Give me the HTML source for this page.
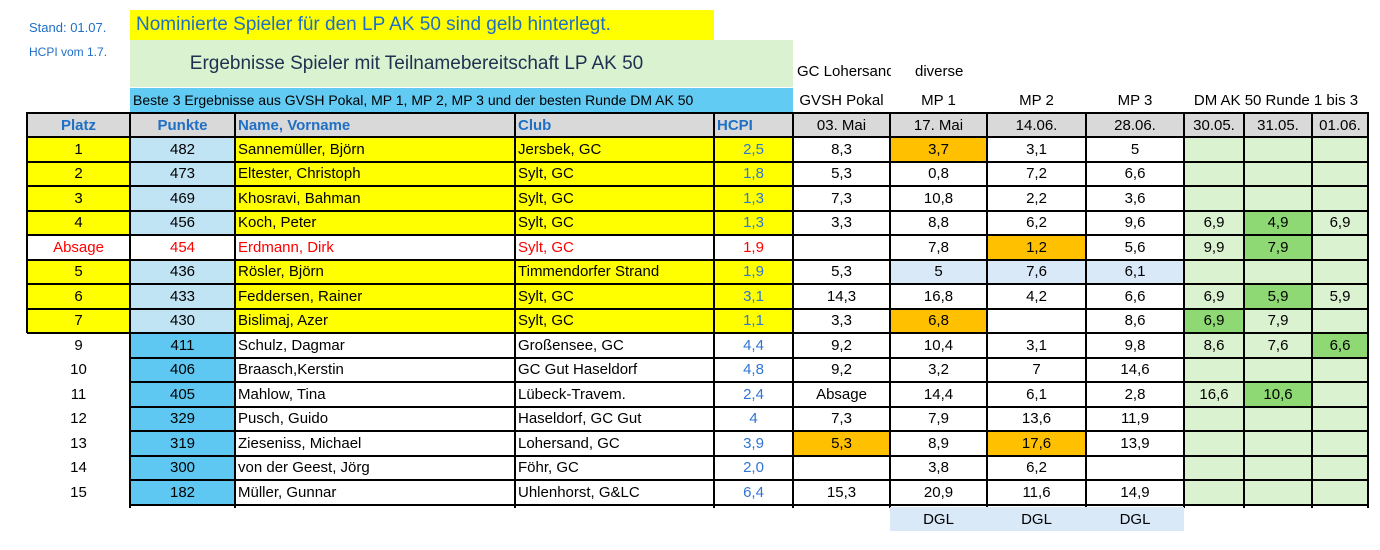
<!DOCTYPE html>
<html><head><meta charset="utf-8"><style>
body{margin:0;width:1380px;height:550px;background:#fff;position:relative;overflow:hidden;font-family:"Liberation Sans Narrow","Liberation Sans",sans-serif;font-size:15px;color:#000}
.a{position:absolute;box-sizing:border-box;white-space:nowrap;line-height:24px}
.c{position:absolute;box-sizing:border-box;white-space:nowrap;display:flex;align-items:center;justify-content:center;overflow:hidden}
.l{justify-content:flex-start;padding-left:3px}
.hl{position:absolute;background:#000}
</style></head><body>
<div class="a" style="left:29px;top:16px;font-size:13px;color:#1f6fc5">Stand: 01.07.</div>
<div class="a" style="left:29px;top:40px;font-size:12px;color:#1f6fc5">HCPI vom 1.7.</div>
<div class="a" style="left:130px;top:10px;width:584px;height:30px;background:#ffff00;color:#1f6fc5;font-size:19px;line-height:30px;padding-left:6px">Nominierte Spieler für den LP AK 50 sind gelb hinterlegt.</div>
<div class="c" style="left:130px;top:40px;width:663px;height:47px;background:#daf2d0;color:#1f3050;font-size:19px;padding-right:90px">Ergebnisse Spieler mit Teilnamebereitschaft LP AK 50</div>
<div class="a" style="left:797px;top:60px;width:94px;overflow:hidden">GC Lohersand</div>
<div class="a" style="left:915px;top:60px">diverse</div>
<div class="a" style="left:130px;top:88px;width:663px;height:25px;background:#61cbf3;font-size:14px;padding-left:3px">Beste 3 Ergebnisse aus GVSH Pokal, MP 1, MP 2, MP 3 und der besten Runde DM AK 50</div>
<div class="c" style="left:793px;top:88px;width:97px;height:25px">GVSH Pokal</div>
<div class="c" style="left:890px;top:88px;width:97px;height:25px">MP 1</div>
<div class="c" style="left:987px;top:88px;width:99px;height:25px">MP 2</div>
<div class="c" style="left:1086px;top:88px;width:98px;height:25px">MP 3</div>
<div class="c" style="left:1184px;top:88px;width:184px;height:25px">DM AK 50 Runde 1 bis 3</div>
<div id="t"></div>
<script>
const headers=["Platz","Punkte","Name, Vorname","Club","HCPI","03. Mai","17. Mai","14.06.","28.06.","30.05.","31.05.","01.06."];
const platz=["1","2","3","4","Absage","5","6","7","9","10","11","12","13","14","15"];
const punkte=["482","473","469","456","454","436","433","430","411","406","405","329","319","300","182"];
const names=["Sannemüller, Björn","Eltester, Christoph","Khosravi, Bahman","Koch, Peter","Erdmann, Dirk","Rösler, Björn","Feddersen, Rainer","Bislimaj, Azer","Schulz, Dagmar","Braasch,Kerstin","Mahlow, Tina","Pusch, Guido","Zieseniss, Michael","von der Geest, Jörg","Müller, Gunnar"];
const clubs=["Jersbek, GC","Sylt, GC","Sylt, GC","Sylt, GC","Sylt, GC","Timmendorfer Strand","Sylt, GC","Sylt, GC","Großensee, GC","GC Gut Haseldorf","Lübeck-Travem.","Haseldorf, GC Gut","Lohersand, GC","Föhr, GC","Uhlenhorst, G&LC"];
const hcpi=["2,5","1,8","1,3","1,3","1,9","1,9","3,1","1,1","4,4","4,8","2,4","4","3,9","2,0","6,4"];
const gvsh=["8,3","5,3","7,3","3,3","","5,3","14,3","3,3","9,2","9,2","Absage","7,3","5,3","","15,3"];
const mp1=["3,7","0,8","10,8","8,8","7,8","5","16,8","6,8","10,4","3,2","14,4","7,9","8,9","3,8","20,9"];
const mp2=["3,1","7,2","2,2","6,2","1,2","7,6","4,2","","3,1","7","6,1","13,6","17,6","6,2","11,6"];
const mp3=["5","6,6","3,6","9,6","5,6","6,1","6,6","8,6","9,8","14,6","2,8","11,9","13,9","","14,9"];
const dm1=["","","","6,9","9,9","","6,9","6,9","8,6","","16,6","","","",""];
const dm2=["","","","4,9","7,9","","5,9","7,9","7,6","","10,6","","","",""];
const dm3=["","","","6,9","","","5,9","","6,6","","","","","",""];
// highlight codes per row: o=orange, g=dark green, b=light blue
const hlGvsh=["","","","","","","","","","","","","o","",""];
const hlMp1=["o","","","","","b","","o","","","","","","",""];
const hlMp2=["","","","","o","b","","","","","","","o","",""];
const hlMp3=["","","","","","b","","","","","","","","",""];
const hlDm1=["","","","","","","","g","","","","","","",""];
const hlDm2=["","","","g","g","","g","","","","g","","","",""];
const hlDm3=["","","","","","","","","g","","","","","",""];
const nominated=[1,1,1,1,0,1,1,1,0,0,0,0,0,0,0];

const X=[27,130,235,515,714,793,890,987,1086,1184,1244,1312,1368];
const HT=113,RT=137,RH=24.5;
const colNames=["platz","punkte","name","club","hcpi","gvsh","mp1","mp2","mp3","dm1","dm2","dm3"];
const t=document.getElementById('t');
function cell(ci,top,h,txt,bg,color,left,name,weight){
  const d=document.createElement('div');
  d.className='c'+(left?' l':'');
  d.style.left=X[ci]+'px';d.style.top=top+'px';d.style.width=(X[ci+1]-X[ci])+'px';d.style.height=h+'px';
  if(bg)d.style.background=bg;if(color)d.style.color=color;if(weight)d.style.fontWeight=weight;
  if(ci===4&&!name.startsWith('header')){d.style.justifyContent='center';d.style.paddingRight='0';}
  d.textContent=txt;
  
  
  t.appendChild(d);
}
headers.forEach((h,i)=>{
  const bl=i<5;
  cell(i,HT,24,h,'#d9d9d9',bl?'#1f6fc5':'#000',i===2||i===3||i===4,'header-'+colNames[i],bl?'bold':'');
});
const hlc={o:'#ffc000',g:'#8ed973',b:'#dae9f8'};
platz.forEach((p,r)=>{
  const top=RT+r*RH,nom=nominated[r],abs=p==="Absage";
  const red=abs?'#ff0000':null;
  cell(0,top,RH,p,nom?'#ffff00':null,red,false,'platz-'+r);
  cell(1,top,RH,punkte[r],abs?null:(nom?'#c1e4f5':'#5ec8f2'),red,false,'punkte-'+r);
  cell(2,top,RH,names[r],nom?'#ffff00':null,red,true,'name-'+r);
  cell(3,top,RH,clubs[r],nom?'#ffff00':null,red,true,'club-'+r);
  cell(4,top,RH,hcpi[r],nom?'#ffff00':null,abs?'#ff0000':'#2f75d6',false,'hcpi-'+r);
  const vals=[gvsh,mp1,mp2,mp3,dm1,dm2,dm3],hls=[hlGvsh,hlMp1,hlMp2,hlMp3,hlDm1,hlDm2,hlDm3];
  vals.forEach((v,k)=>{
    const c=hls[k][r];
    let bg=c?hlc[c]:(k>=4?'#daf2d0':null);
    cell(5+k,top,RH,v[r],bg,null,false,colNames[5+k]+'-'+r);
  });
});
function line(x,y,w,h){const d=document.createElement('div');d.className='hl';d.style.left=x+'px';d.style.top=y+'px';d.style.width=w+'px';d.style.height=h+'px';t.appendChild(d);}
line(27,112,1341,2);line(27,136,1341,2);
for(let r=1;r<=15;r++){const y=Math.round(RT+r*RH)-1;line(r<=8?27:130,y,(r<=8?1341:1238),2);}
X.forEach((x,i)=>{
  if(i===0){line(26,112,2,RT+8*RH-112);return;}
  line(x-1,112,2,RT+15*RH-112+3);
});
[890,987,1086].forEach((x,i)=>{
  const d=document.createElement('div');d.className='c';
  d.style.left=x+'px';d.style.top='507px';d.style.width=(i==0?97:i==1?99:98)+'px';d.style.height='24px';d.style.background='#dae9f8';
  d.textContent='DGL';
  
  
  t.appendChild(d);
});
</script>
</body></html>
